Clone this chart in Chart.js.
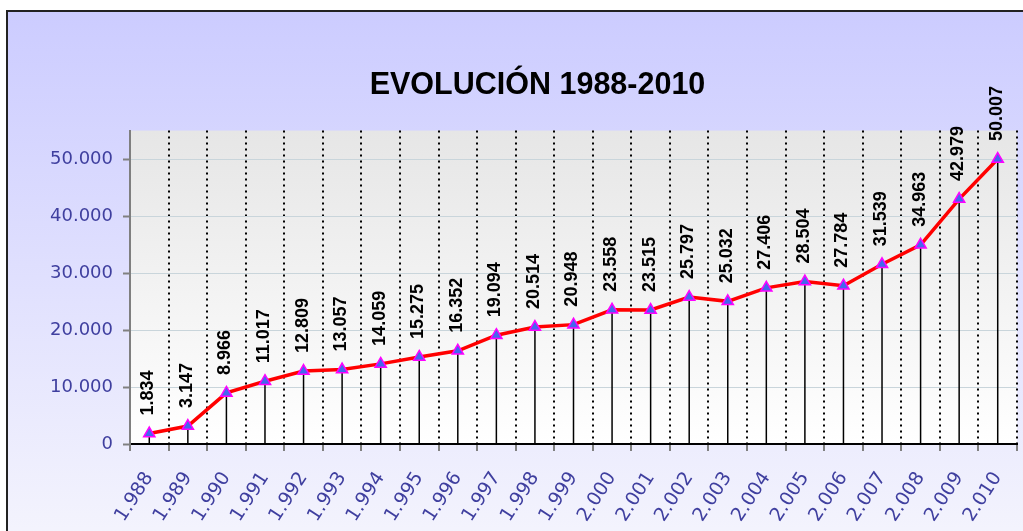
<!DOCTYPE html>
<html>
<head>
<meta charset="utf-8">
<script src="https://cdn.jsdelivr.net/npm/chart.js@4/dist/chart.umd.min.js"></script>
<style>
  html, body { margin: 0; padding: 0; background: #ffffff; overflow: hidden; width: 1023px; height: 531px; }
  #frame { position: absolute; left: 6px; top: 10px; border-left: 2px solid #222; border-top: 2px solid #222; width: 1030px; height: 530px; }
  canvas { display: block; }
</style>
</head>
<body>
<div id="frame"><canvas id="c" width="1030" height="530"></canvas></div>
<script>
const titleText = 'EVOLUCIÓN 1988-2010';
const categories = ['1.988','1.989','1.990','1.991','1.992','1.993','1.994','1.995','1.996','1.997','1.998','1.999','2.000','2.001','2.002','2.003','2.004','2.005','2.006','2.007','2.008','2.009','2.010'];
const values = [1834, 3147, 8966, 11017, 12809, 13057, 14059, 15275, 16352, 19094, 20514, 20948, 23558, 23515, 25797, 25032, 27406, 28504, 27784, 31539, 34963, 42979, 50007];
const yTickValues = [0, 10000, 20000, 30000, 40000, 50000];
const yMax = 55000;

function fmt(v) { return String(v).replace(/\B(?=(\d{3})+(?!\d))/g, '.'); }

const bgPlugin = {
  id: 'bg',
  beforeDraw(chart) {
    const { ctx, width, height, chartArea: a } = chart;
    ctx.save();
    let g = ctx.createLinearGradient(0, 0, 0, height);
    g.addColorStop(0, '#CCCCFF');
    g.addColorStop(1, '#F4F4FD');
    ctx.fillStyle = g;
    ctx.fillRect(0, 0, width, height);
    g = ctx.createLinearGradient(0, a.top, 0, a.bottom);
    g.addColorStop(0, '#E6E6E6');
    g.addColorStop(1, '#FFFFFF');
    ctx.fillStyle = g;
    ctx.fillRect(a.left, a.top, a.right - a.left, a.bottom - a.top);
    ctx.restore();
  }
};

const dropPlugin = {
  id: 'drops',
  beforeDatasetsDraw(chart) {
    const { ctx, chartArea: a } = chart;
    const meta = chart.getDatasetMeta(0);
    ctx.save();
    ctx.strokeStyle = '#000000';
    ctx.lineWidth = 1.5;
    meta.data.forEach(p => {
      ctx.beginPath();
      ctx.moveTo(p.x, p.y);
      ctx.lineTo(p.x, a.bottom);
      ctx.stroke();
    });
    ctx.restore();
  }
};

const labelPlugin = {
  id: 'vlabels',
  afterDatasetsDraw(chart) {
    const { ctx } = chart;
    const meta = chart.getDatasetMeta(0);
    ctx.save();
    ctx.fillStyle = '#000000';
    ctx.font = 'bold 18px "Liberation Sans", Arial, sans-serif';
    ctx.textAlign = 'left';
    ctx.textBaseline = 'middle';
    meta.data.forEach((p, i) => {
      ctx.save();
      ctx.translate(p.x - 1, p.y - 18);
      ctx.rotate(-Math.PI / 2);
      ctx.fillText(fmt(values[i]), 0, 0);
      ctx.restore();
    });
    ctx.restore();
  }
};

new Chart(document.getElementById('c'), {
  type: 'line',
  data: {
    labels: categories,
    datasets: [{
      data: values,
      borderColor: '#FF0000',
      borderWidth: 3.5,
      tension: 0,
      pointStyle: 'triangle',
      pointRadius: 6.5,
      pointBackgroundColor: '#4466EE',
      pointBorderColor: '#FF00FF',
      pointBorderWidth: 1.5,
      clip: false
    }]
  },
  options: {
    responsive: false,
    animation: false,
    layout: { padding: { left: 29, right: 0, top: 0, bottom: 0 } },
    plugins: {
      legend: { display: false },
      tooltip: { enabled: false },
      title: {
        display: true,
        text: titleText,
        color: '#000000',
        font: { family: '"Liberation Sans", Arial, sans-serif', size: 30.5, weight: 'bold' },
        padding: { top: 55, bottom: 27 }
      }
    },
    scales: {
      x: {
        offset: true,
        afterFit(scale) { scale.height = 98; scale.paddingRight = 21; },
        grid: {
          offset: true,
          color: (c) => c.index === 0 ? 'rgba(0,0,0,0)' : '#000000',
          lineWidth: 2,
          tickColor: '#808080',
          tickWidth: 2,
          tickLength: 7,
          tickBorderDash: []
        },
        border: { display: true, color: '#000000', width: 2, dash: [2, 4] },
        ticks: {
          autoSkip: false,
          minRotation: 57,
          maxRotation: 57,
          padding: 17,
          color: '#3F3F9F',
          font: { family: '"DejaVu Sans", Verdana, sans-serif', size: 19 }
        }
      },
      y: {
        min: 0,
        max: yMax,
        afterFit(scale) { scale.width = 93; },
        afterBuildTicks(scale) { scale.ticks = yTickValues.map(v => ({ value: v })); },
        grid: {
          color: '#C9D5DB',
          lineWidth: 1,
          tickColor: '#808080',
          tickWidth: 2,
          tickLength: 7
        },
        border: { display: true, color: '#7F7F7F', width: 2 },
        ticks: {
          padding: 10,
          color: '#3F3F9F',
          font: { family: '"DejaVu Sans", Verdana, sans-serif', size: 18 },
          callback: (v) => fmt(v)
        }
      }
    }
  },
  plugins: [bgPlugin, dropPlugin, labelPlugin]
});
</script>
</body>
</html>
